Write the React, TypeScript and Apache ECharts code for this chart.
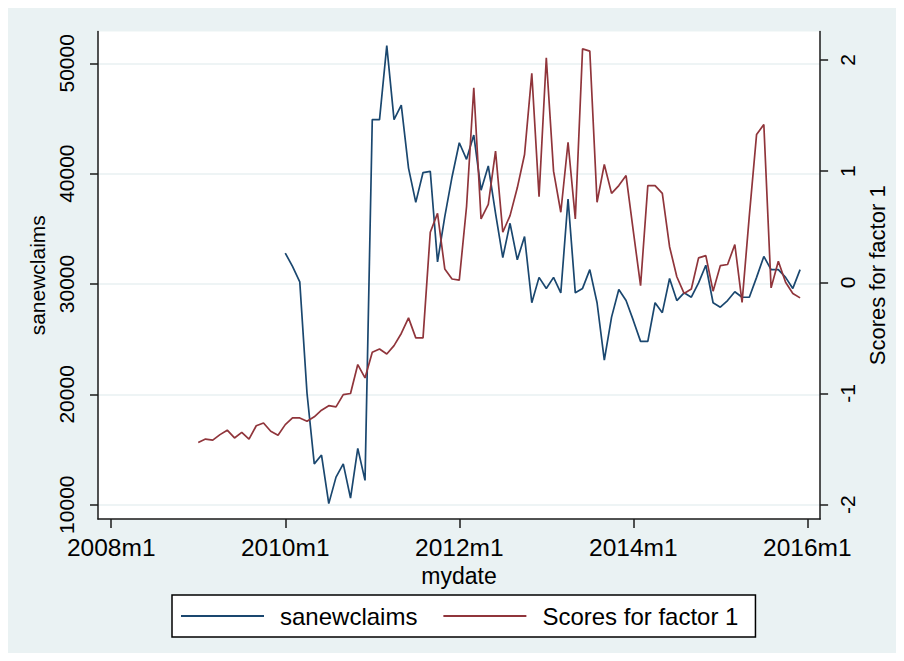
import React, { useEffect, useRef } from "react";
import * as echarts from "echarts";

// month index: 0 = 2008m1
const claimsStartMonth = 24; // 2010m1
const sanewclaims = [
  32800, 31600, 30200, 20100, 13700, 14500, 10100, 12500, 13700, 10600, 15100, 12200,
  44900, 44900, 51600, 44900, 46200, 40500, 37400, 40100, 40200, 32000, 36100, 39700,
  42800, 41300, 43500, 38500, 40700, 36400, 32400, 35500, 32200, 34300, 28300, 30600,
  29600, 30600, 29200, 37700, 29200, 29600, 31300, 28300, 23100, 27000, 29500, 28500,
  26700, 24800, 24800, 28300, 27400, 30500, 28500, 29200, 28800, 30100, 31700, 28300,
  27900, 28500, 29300, 28800, 28800, 30600, 32500, 31300, 31300, 30600, 29600, 31300,
];

const scoresStartMonth = 12; // 2009m1
const scoresFactor1 = [
  -1.44, -1.41, -1.42, -1.37, -1.33, -1.4, -1.35, -1.41, -1.29, -1.265, -1.34, -1.375,
  -1.28, -1.22, -1.22, -1.25, -1.21, -1.15, -1.11, -1.12, -1.01, -1.0, -0.74, -0.86,
  -0.63, -0.6, -0.645, -0.57, -0.46, -0.32, -0.5, -0.5, 0.45, 0.62, 0.12, 0.03,
  0.02, 0.68, 1.75, 0.57, 0.7, 1.18, 0.45, 0.6, 0.85, 1.15, 1.88, 0.77,
  2.02, 1.0, 0.63, 1.26, 0.57, 2.1, 2.08, 0.72, 1.06, 0.8, 0.87, 0.96,
  0.46, -0.03, 0.87, 0.87, 0.8, 0.32, 0.05, -0.1, -0.06, 0.22, 0.24, -0.08,
  0.15, 0.16, 0.34, -0.18, 0.6, 1.33, 1.42, -0.05, 0.19, 0.0, -0.1, -0.14,
];

const xTickMonths = [0, 24, 48, 72, 96];
const leftTicks = [10000, 20000, 30000, 40000, 50000];
const rightTicks = [-2, -1, 0, 1, 2];

const FONT = "'Liberation Sans', Arial, sans-serif";
const BLUE = "#1A476F";
const RED = "#90353B";
const BG = "#EAF2F3";
const AXIS = "#1a1a1a";

const monthLabel = (m: number) => {
  const r = Math.round(m);
  const y = 2008 + Math.floor(r / 12);
  const mm = (r % 12) + 1;
  return `${y}m${mm}`;
};

export default function App() {
  const ref = useRef<HTMLDivElement>(null);
  useEffect(() => {
    if (!ref.current) return;
    const chart = echarts.init(ref.current, undefined, { renderer: "svg" });
    const claimsData = sanewclaims.map((v, i) => [claimsStartMonth + i, v]);
    const scoresData = scoresFactor1.map((v, i) => [scoresStartMonth + i, v]);
    chart.setOption({
      animation: false,
      backgroundColor: BG,
      textStyle: { fontFamily: FONT, color: "#000" },
      grid: {
        left: 90,
        right: 73,
        top: 23.5,
        bottom: 134,
        show: true,
        backgroundColor: "#fff",
        borderWidth: 0,
      },
      legend: {
        left: 164,
        top: 587,
        orient: "horizontal",
        backgroundColor: "#fff",
        borderColor: "#000",
        borderWidth: 1.5,
        borderRadius: 0,
        padding: [9, 17, 9, 9],
        icon: "rect",
        itemWidth: 83,
        itemHeight: 2,
        itemGap: 26,
        textStyle: { fontFamily: FONT, fontSize: 24, color: "#000", padding: [0, 0, 0, 11] },
        data: ["sanewclaims", "Scores for factor 1"],
      },
      xAxis: {
        type: "value",
        min: -1.825,
        max: 97.76,
        name: "mydate",
        nameLocation: "middle",
        nameGap: 34,
        nameTextStyle: { fontFamily: FONT, fontSize: 23, color: "#000" },
        axisLine: { show: true, onZero: false, lineStyle: { color: AXIS, width: 1.5 } },
        axisTick: { show: true, length: 9, customValues: xTickMonths, lineStyle: { color: AXIS, width: 1.5 } },
        axisLabel: {
          customValues: xTickMonths,
          formatter: (v: number) => monthLabel(v),
          fontFamily: FONT,
          fontSize: 24.5,
          color: "#000",
          margin: 16,
        },
        splitLine: { show: false },
      },
      yAxis: [
        {
          type: "value",
          position: "left",
          min: 8705,
          max: 52880,
          name: "sanewclaims",
          nameLocation: "middle",
          nameRotate: 90,
          nameGap: 39,
          nameTextStyle: { fontFamily: FONT, fontSize: 21, color: "#000" },
          axisLine: { show: true, onZero: false, lineStyle: { color: AXIS, width: 1.5 } },
          axisTick: { show: true, length: 8, customValues: leftTicks, lineStyle: { color: AXIS, width: 1.5 } },
          axisLabel: {
            customValues: leftTicks,
            formatter: (v: number) => String(Math.round(v)),
            rotate: 90,
            fontFamily: FONT,
            fontSize: 21,
            color: "#000",
            margin: 21,
          },
          splitLine: { show: true, lineStyle: { color: "#E8F0F2", width: 1.5 } },
        },
        {
          type: "value",
          position: "right",
          min: -2.129,
          max: 2.256,
          name: "Scores for factor 1",
          nameLocation: "middle",
          nameRotate: 90,
          nameGap: 34,
          nameTextStyle: { fontFamily: FONT, fontSize: 22, color: "#000" },
          axisLine: { show: true, onZero: false, lineStyle: { color: AXIS, width: 1.5 } },
          axisTick: { show: true, length: 8, customValues: rightTicks, lineStyle: { color: AXIS, width: 1.5 } },
          axisLabel: {
            customValues: rightTicks,
            rotate: 90,
            fontFamily: FONT,
            fontSize: 21,
            color: "#000",
            margin: 17,
          },
          splitLine: { show: false },
        },
      ],
      series: [
        {
          name: "sanewclaims",
          type: "line",
          yAxisIndex: 0,
          data: claimsData,
          symbol: "none",
          lineStyle: { color: BLUE, width: 1.7 },
          itemStyle: { color: BLUE },
        },
        {
          name: "Scores for factor 1",
          type: "line",
          yAxisIndex: 1,
          data: scoresData,
          symbol: "none",
          lineStyle: { color: RED, width: 1.7 },
          itemStyle: { color: RED },
        },
      ],
    });
    return () => chart.dispose();
  }, []);
  return <div ref={ref} style={{ width: 888, height: 645 }} />;
}
